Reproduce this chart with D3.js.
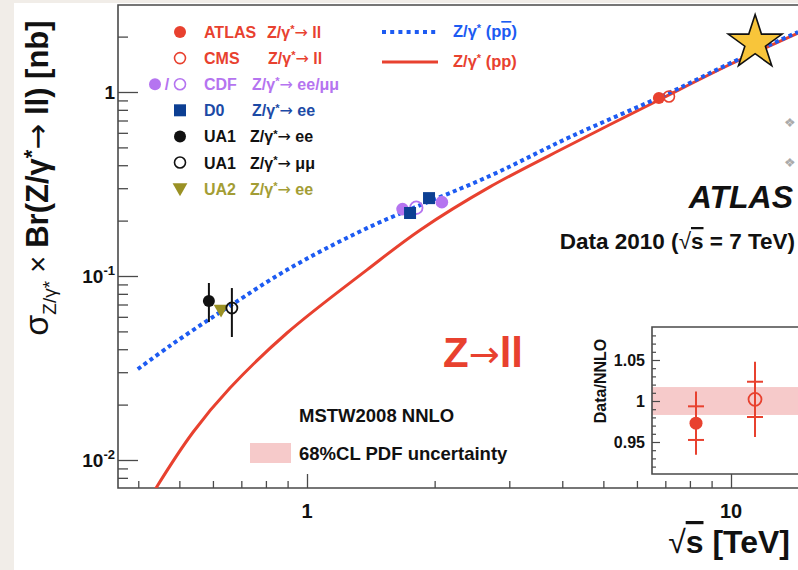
<!DOCTYPE html>
<html><head><meta charset="utf-8">
<script src="https://cdn.jsdelivr.net/npm/d3@7"></script>
<style>body{margin:0;background:#fff}svg{display:block}text{font-family:"Liberation Sans",Arial,Helvetica,sans-serif}</style>
</head><body><svg id="c" width="798" height="570"></svg>
<script>
// ---- data (sqrt(s) in TeV, sigma x BR in nb) ----
const ppbarSqrtS = [0.399, 0.475, 0.575, 0.669, 0.897, 1.385, 2.70, 4.17, 7.14, 10.0, 14.4];
const ppbarSigma = [0.0312, 0.0417, 0.0562, 0.0705, 0.108, 0.182, 0.350, 0.569, 0.988, 1.44, 2.12];
const ppSqrtS = [0.435, 0.4406, 0.539, 0.658, 0.897, 1.385, 1.85, 2.70, 4.17, 6.76, 10.0, 14.4];
const ppSigma = [0.0067, 0.00705, 0.0142, 0.0246, 0.049, 0.108, 0.178, 0.305, 0.515, 0.905, 1.42, 2.09];

const atlasSqrtS = [6.76], atlasSigma = [0.928];
const cmsSqrtS = [7.14], cmsSigma = [0.945];
const cdfSqrtS = [1.68, 1.81, 2.08], cdfSigma = [0.231, 0.235, 0.252], cdfOpen = [false, true, false];
const d0SqrtS = [1.75, 1.94], d0Sigma = [0.220, 0.265];
const ua1eeSqrtS = [0.587], ua1eeSigma = [0.0731], ua1eeLo = [0.0562], ua1eeHi = [0.0916];
const ua1mmSqrtS = [0.665], ua1mmSigma = [0.067], ua1mmLo = [0.0466], ua1mmHi = [0.086];
const ua2SqrtS = [0.627], ua2Sigma = [0.0662];
const starSqrtS = [11.4], starSigma = [1.85];

const ratioExp = ["ATLAS", "CMS"];
const ratioVal = [0.973, 1.002];
const ratioStat = [0.0205, 0.0215];
const ratioTot = [0.0385, 0.046];
const ratioOpen = [false, true];
const pdfBand = [0.983, 1.017];
const ratioTickLabels = ["0.95", "1", "1.05"];

const legendExp = ["ATLAS", "CMS", "CDF", "D0", "UA1", "UA1", "UA2"];
const legendProc = ["ll", "ll", "ee/μμ", "ee", "ee", "μμ", "ee"];
const theoryLabels = ["(p", "(pp)"];

// ---- setup ----
const W = 798, H = 570;
const RED = "#e8412f", BLUE = "#1d5bf2", PURPLE = "#b574f0", D0C = "#0c3f93", OLIVE = "#9a9124", PINK = "#f6caca", AX = "#4a4a4a";
const ARROWFONT = "DejaVu Sans";
const svg = d3.select("#c");
svg.append("rect").attr("width", W).attr("height", H).attr("fill", "#f1ede8");
svg.append("rect").attr("x", 14).attr("y", 3).attr("width", W - 14).attr("height", H - 3).attr("fill", "#fff");

const L = 118, T = 5, B = 488, R = 798;
const xs = d3.scaleLog().domain([1, 10]).range([307, 731]);
xs.domain([xs.invert(L), xs.invert(R)]).range([L, R]);
const ys = d3.scaleLog().domain([0.01, 1]).range([460, 92]);
ys.domain([ys.invert(B), ys.invert(T)]).range([B, T]);
const isMajor = d => Math.abs(Math.log10(d) - Math.round(Math.log10(d))) < 1e-6;

svg.append("clipPath").attr("id", "clip").append("rect").attr("x", L).attr("y", T).attr("width", R - L).attr("height", B - T);

function proc(t, size, tail) {
  t.append("tspan").text("Z/γ");
  t.append("tspan").attr("font-size", size * 0.7).attr("dy", -size * 0.3).text("*");
  t.append("tspan").attr("dy", size * 0.3).attr("font-family", ARROWFONT).attr("font-weight", "normal").text("→");
  t.append("tspan").text(" " + tail);
}

// axes
const gy = svg.append("g").attr("transform", `translate(${L},0)`)
  .call(d3.axisRight(ys).tickValues(ys.ticks()).tickFormat("").tickSizeOuter(0));
gy.selectAll(".tick line").attr("x2", d => isMajor(d) ? 20 : 10).attr("stroke", AX).attr("stroke-width", 1.3);
gy.select(".domain").remove();
const gx = svg.append("g").attr("transform", `translate(0,${B})`)
  .call(d3.axisTop(xs).tickValues(xs.ticks()).tickFormat("").tickSizeOuter(0));
gx.selectAll(".tick line").attr("y2", d => isMajor(d) ? -14 : -7).attr("stroke", AX).attr("stroke-width", 1.3);
gx.select(".domain").remove();

svg.append("path").attr("d", `M${R},${T}H${L}V${B}H${R}`).attr("fill", "none").attr("stroke", AX).attr("stroke-width", 1.6);

ys.ticks().filter(isMajor).forEach(v => {
  const e = Math.round(Math.log10(v));
  const t = svg.append("text").attr("x", 115).attr("y", ys(v) + 7).attr("text-anchor", "end")
    .attr("font-size", 19).attr("font-weight", "bold").attr("fill", "#111");
  if (e === 0) t.text("1");
  else { t.append("tspan").text("10"); t.append("tspan").attr("font-size", 13).attr("dy", -8).text(String(e)); }
});
xs.ticks().filter(isMajor).forEach(v => {
  svg.append("text").attr("x", xs(v)).attr("y", 518).attr("text-anchor", "middle")
    .attr("font-size", 20).attr("font-weight", "bold").attr("fill", "#111").text(d3.format("d")(v));
});

// axis titles
const yt = svg.append("text").attr("transform", "translate(48,178) rotate(-90)").attr("text-anchor", "middle").attr("fill", "#111");
yt.append("tspan").attr("font-size", 34).text("σ");
yt.append("tspan").attr("font-size", 19).attr("dy", 8).text("Z/γ*");
yt.append("tspan").attr("font-size", 29).attr("dy", -8).text(" × ");
const ytb = yt.append("tspan").attr("font-size", 31).attr("font-weight", "bold");
ytb.append("tspan").text("Br(Z/γ");
ytb.append("tspan").attr("font-size", 22).attr("dy", -9).text("*");
ytb.append("tspan").attr("dy", 9).attr("font-family", ARROWFONT).attr("font-weight", "normal").text("→");
ytb.append("tspan").text(" ll) [nb]");

const xt = svg.append("text").attr("x", 790).attr("y", 553).attr("text-anchor", "end").attr("font-size", 32).attr("font-weight", "bold").attr("fill", "#111");
xt.append("tspan").attr("font-weight", "normal").text("√");
xt.append("tspan").attr("text-decoration", "overline").text("s");
xt.append("tspan").text(" [TeV]");

// ---- plot content ----
const plot = svg.append("g").attr("clip-path", "url(#clip)");
const line = d3.line().x(d => xs(d[0])).y(d => ys(d[1])).curve(d3.curveCatmullRom.alpha(0.5));
plot.append("path").attr("d", line(d3.zip(ppSqrtS, ppSigma))).attr("fill", "none").attr("stroke", RED).attr("stroke-width", 3);
plot.append("path").attr("d", line(d3.zip(ppbarSqrtS, ppbarSigma))).attr("fill", "none").attr("stroke", BLUE).attr("stroke-width", 4).attr("stroke-dasharray", "4,3.4");

d3.zip(ua1eeSqrtS, ua1eeLo, ua1eeHi).forEach(([s, lo, hi]) => plot.append("line").attr("x1", xs(s)).attr("x2", xs(s)).attr("y1", ys(lo)).attr("y2", ys(hi)).attr("stroke", "#111").attr("stroke-width", 2));
d3.zip(ua1mmSqrtS, ua1mmLo, ua1mmHi).forEach(([s, lo, hi]) => plot.append("line").attr("x1", xs(s)).attr("x2", xs(s)).attr("y1", ys(lo)).attr("y2", ys(hi)).attr("stroke", "#111").attr("stroke-width", 2));
const tri = d3.symbol().type(d3.symbolTriangle).size(95);
d3.zip(ua2SqrtS, ua2Sigma).forEach(([s, v]) => plot.append("path").attr("d", tri()).attr("transform", `translate(${xs(s)},${ys(v)}) rotate(180)`).attr("fill", OLIVE));
d3.zip(ua1eeSqrtS, ua1eeSigma).forEach(([s, v]) => plot.append("circle").attr("cx", xs(s)).attr("cy", ys(v)).attr("r", 6).attr("fill", "#111"));
d3.zip(ua1mmSqrtS, ua1mmSigma).forEach(([s, v]) => plot.append("circle").attr("cx", xs(s)).attr("cy", ys(v)).attr("r", 5.5).attr("fill", "none").attr("stroke", "#111").attr("stroke-width", 1.8));

d3.zip(cdfSqrtS, cdfSigma, cdfOpen).forEach(([s, v, o]) => plot.append("circle").attr("cx", xs(s)).attr("cy", ys(v)).attr("r", 6.3)
  .attr("fill", o ? "none" : PURPLE).attr("stroke", PURPLE).attr("stroke-width", o ? 1.8 : 0));
d3.zip(d0SqrtS, d0Sigma).forEach(([s, v]) => plot.append("rect").attr("x", xs(s) - 6).attr("y", ys(v) - 6).attr("width", 12).attr("height", 12).attr("fill", D0C));

d3.zip(atlasSqrtS, atlasSigma).forEach(([s, v]) => plot.append("circle").attr("cx", xs(s)).attr("cy", ys(v)).attr("r", 6).attr("fill", RED));
d3.zip(cmsSqrtS, cmsSigma).forEach(([s, v]) => plot.append("circle").attr("cx", xs(s)).attr("cy", ys(v)).attr("r", 5.5).attr("fill", "none").attr("stroke", RED).attr("stroke-width", 1.6));

const star = d3.symbol().type(d3.symbolStar).size(900);
d3.zip(starSqrtS, starSigma).forEach(([s, v]) => svg.append("path").attr("d", star()).attr("transform", `translate(${xs(s)},${ys(v)})`)
  .attr("fill", "#f8c53a").attr("stroke", "#111").attr("stroke-width", 1.6).attr("stroke-linejoin", "miter"));

// ---- legends ----
const rowY = d3.range(legendExp.length).map(i => 32 + i * 26.1);
const expColor = [RED, RED, PURPLE, "#1c4aa6", "#111", "#111", "#a39d35"];
const procX = [267, 268, 252, 252, 250, 250, 250];
legendExp.forEach((n, i) => {
  svg.append("text").attr("x", 204).attr("y", rowY[i] + 6).attr("font-size", 16).attr("font-weight", "bold").attr("fill", expColor[i]).text(n);
  const t = svg.append("text").attr("x", procX[i]).attr("y", rowY[i] + 6).attr("font-size", 16).attr("font-weight", "bold").attr("fill", expColor[i]);
  proc(t, 16, legendProc[i]);
});
const mx = 180;
svg.append("circle").attr("cx", mx).attr("cy", rowY[0]).attr("r", 6).attr("fill", RED);
svg.append("circle").attr("cx", mx).attr("cy", rowY[1]).attr("r", 5.5).attr("fill", "none").attr("stroke", RED).attr("stroke-width", 1.6);
svg.append("circle").attr("cx", 155).attr("cy", rowY[2]).attr("r", 6).attr("fill", PURPLE);
svg.append("text").attr("x", 167).attr("y", rowY[2] + 6).attr("text-anchor", "middle").attr("font-size", 16).attr("font-weight", "bold").attr("fill", PURPLE).text("/");
svg.append("circle").attr("cx", mx).attr("cy", rowY[2]).attr("r", 5.5).attr("fill", "none").attr("stroke", PURPLE).attr("stroke-width", 1.6);
svg.append("rect").attr("x", mx - 6).attr("y", rowY[3] - 6).attr("width", 12).attr("height", 12).attr("fill", D0C);
svg.append("circle").attr("cx", mx).attr("cy", rowY[4]).attr("r", 6).attr("fill", "#111");
svg.append("circle").attr("cx", mx).attr("cy", rowY[5]).attr("r", 5.5).attr("fill", "none").attr("stroke", "#111").attr("stroke-width", 1.6);
svg.append("path").attr("d", tri()).attr("transform", `translate(${mx},${rowY[6] - 1}) rotate(180)`).attr("fill", OLIVE);

svg.append("line").attr("x1", 382).attr("x2", 438).attr("y1", 32).attr("y2", 32).attr("stroke", BLUE).attr("stroke-width", 4).attr("stroke-dasharray", "4,4.2");
svg.append("line").attr("x1", 382).attr("x2", 438).attr("y1", 62).attr("y2", 62).attr("stroke", RED).attr("stroke-width", 3);
function theoryLabel(y, color, tail, bar) {
  const t = svg.append("text").attr("x", 453).attr("y", y).attr("font-size", 16.5).attr("font-weight", "bold").attr("fill", color);
  t.append("tspan").text("Z/γ");
  t.append("tspan").attr("font-size", 11).attr("dy", -5).text("*");
  t.append("tspan").attr("dy", 5).text(" " + tail);
  if (bar) { t.append("tspan").attr("text-decoration", "overline").text("p"); t.append("tspan").text(")"); }
}
theoryLabel(37, BLUE, theoryLabels[0], true);
theoryLabel(67, RED, theoryLabels[1], false);

// annotations
svg.append("text").attr("x", 793).attr("y", 208).attr("text-anchor", "end").attr("font-size", 32).attr("font-weight", "bold").attr("font-style", "italic").attr("fill", "#111").text("ATLAS");
const dt = svg.append("text").attr("x", 795).attr("y", 249).attr("text-anchor", "end").attr("font-size", 22.5).attr("font-weight", "bold").attr("fill", "#111");
dt.append("tspan").text("Data 2010 (");
dt.append("tspan").attr("font-weight", "normal").text("√");
dt.append("tspan").attr("text-decoration", "overline").text("s");
dt.append("tspan").text(" = 7 TeV)");
const zl = svg.append("text").attr("x", 443).attr("y", 367).attr("font-size", 42).attr("font-weight", "bold").attr("fill", RED);
zl.append("tspan").text("Z");
zl.append("tspan").attr("font-family", ARROWFONT).attr("font-weight", "normal").attr("font-size", 37).text("→");
zl.append("tspan").text("ll");
svg.append("text").attr("x", 299).attr("y", 422).attr("font-size", 18.5).attr("font-weight", "bold").attr("fill", "#111").text("MSTW2008 NNLO");
svg.append("rect").attr("x", 250).attr("y", 443).attr("width", 41).attr("height", 20).attr("fill", PINK);
svg.append("text").attr("x", 299).attr("y", 460).attr("font-size", 18.5).attr("font-weight", "bold").attr("fill", "#111").text("68%CL PDF uncertainty");
[122, 162].forEach(y => svg.append("text").attr("x", 790).attr("y", y + 5).attr("text-anchor", "middle").attr("font-size", 13).attr("fill", "#aaa").attr("font-family", "DejaVu Sans").text("❖"));

// ---- inset ----
const iL = 652, iT = 327, iB = 474;
const iy = d3.scaleLinear().domain([0.95, 1.05]).range([442, 360]);
iy.domain([iy.invert(iB), iy.invert(iT)]).range([iB, iT]);
const ix = d3.scalePoint().domain(ratioExp).range([696, 755]);
const inset = svg.append("g");
inset.append("rect").attr("x", iL).attr("y", iT).attr("width", R - iL + 10).attr("height", iB - iT).attr("fill", "#fff");
inset.append("rect").attr("x", iL).attr("y", iy(pdfBand[1])).attr("width", R - iL + 10).attr("height", iy(pdfBand[0]) - iy(pdfBand[1])).attr("fill", PINK);
const minorVals = d3.range(92, 109).map(v => v / 100);
const gi = inset.append("g").attr("transform", `translate(${iL},0)`)
  .call(d3.axisRight(iy).tickValues(minorVals).tickFormat("").tickSizeOuter(0));
gi.selectAll(".tick line").attr("x2", d => (Math.round(d * 100) % 5 === 0) ? 8 : 4).attr("stroke", AX).attr("stroke-width", 1.2);
gi.select(".domain").remove();
inset.append("path").attr("d", `M${R + 5},${iT}H${iL}V${iB}H${R + 5}`).attr("fill", "none").attr("stroke", AX).attr("stroke-width", 1.6);
ratioTickLabels.forEach(s => inset.append("text").attr("x", 645).attr("y", iy(+s) + 6).attr("text-anchor", "end").attr("font-size", 16).attr("font-weight", "bold").attr("fill", "#111").text(s));
inset.append("text").attr("transform", "translate(606,381) rotate(-90)").attr("text-anchor", "middle").attr("font-size", 16).attr("font-weight", "bold").attr("fill", "#111").text("Data/NNLO");
ratioExp.forEach((e, i) => {
  const cx = ix(e), v = ratioVal[i];
  inset.append("line").attr("x1", cx).attr("x2", cx).attr("y1", iy(v - ratioTot[i])).attr("y2", iy(v + ratioTot[i])).attr("stroke", RED).attr("stroke-width", 2);
  [v - ratioStat[i], v + ratioStat[i]].forEach(b => inset.append("line").attr("x1", cx - 8).attr("x2", cx + 8).attr("y1", iy(b)).attr("y2", iy(b)).attr("stroke", RED).attr("stroke-width", 2));
  inset.append("circle").attr("cx", cx).attr("cy", iy(v)).attr("r", 6.5)
    .attr("fill", ratioOpen[i] ? "none" : RED).attr("stroke", RED).attr("stroke-width", ratioOpen[i] ? 1.8 : 0);
});
</script></body></html>
